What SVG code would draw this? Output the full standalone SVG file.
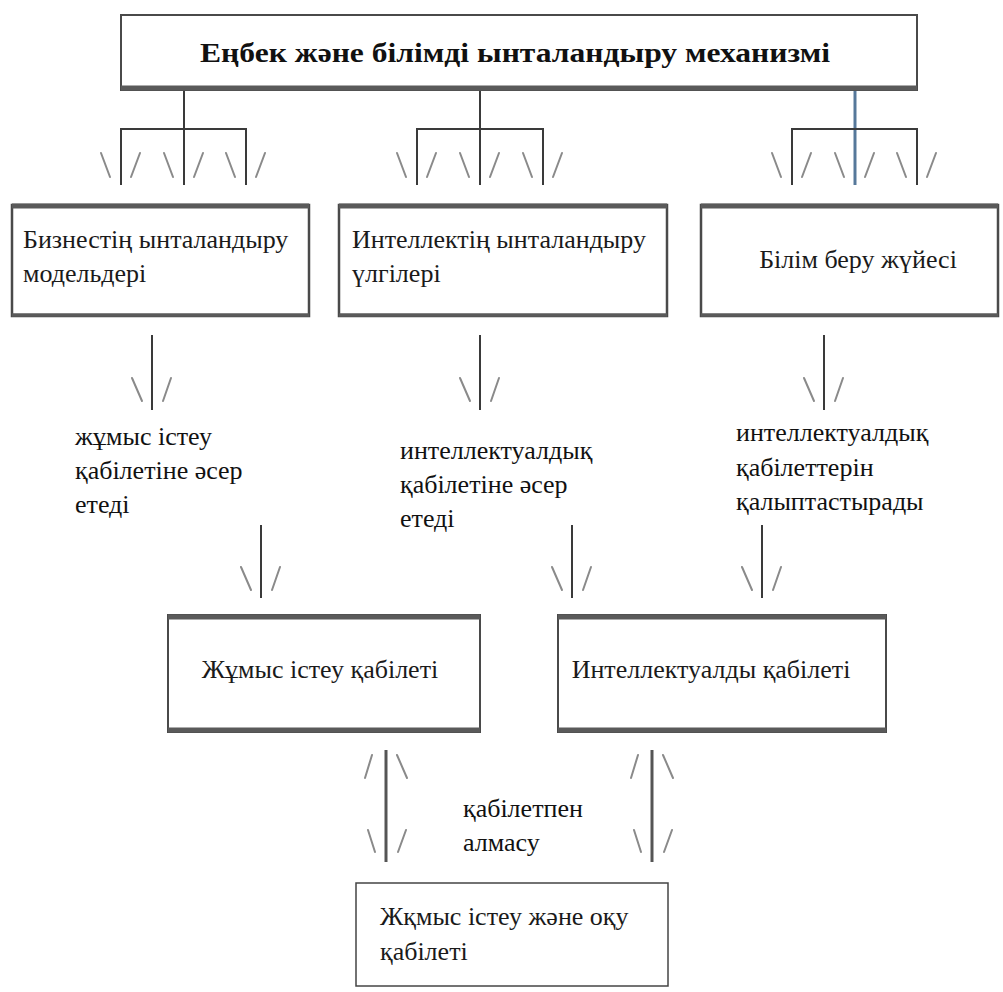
<svg xmlns="http://www.w3.org/2000/svg" width="1003" height="992" viewBox="0 0 1003 992">
<style>
.bg{fill:#ffffff}
.box{fill:#ffffff;stroke:#4a4a4a;stroke-width:2.5}
.thick{stroke:#5a5a5a;stroke-width:5;fill:none}
.thin{fill:#ffffff;stroke:#444;stroke-width:1.5}
.ln{stroke:#3a3a3a;stroke-width:2;fill:none}
.mk{stroke:#8a8a8a;stroke-width:2;fill:none;stroke-linecap:round}
.t{font-family:"Liberation Serif","Times New Roman",serif;font-size:26px;fill:#1a1a1a}
.lb{font-family:"Liberation Serif","Times New Roman",serif;font-size:26px;fill:#111}
.title{font-family:"Liberation Serif","Times New Roman",serif;font-size:28px;font-weight:bold;fill:#111}
</style>
<rect class="bg" x="0" y="0" width="1003" height="992"/>

<g id="connectors">
  <!-- stems from title -->
  <line class="ln" x1="184" y1="90" x2="184" y2="185"/>
  <line class="ln" x1="480" y1="90" x2="480" y2="185"/>
  <line class="ln" x1="855" y1="90" x2="855" y2="185" style="stroke:#56789a;stroke-width:3"/>
  <!-- brackets -->
  <path class="ln" d="M121,185 V129 H246 V185"/>
  <path class="ln" d="M417,185 V129 H543 V185"/>
  <path class="ln" d="M792,185 V129 H917 V185"/>
  <!-- marks under brackets -->
  <g id="marks-top">
    <path class="mk" d="M101,153 L110,177 M131,177 L140,153"/>
    <path class="mk" d="M164,153 L173,177 M194,177 L203,153"/>
    <path class="mk" d="M226,153 L235,177 M256,177 L265,153"/>
    <path class="mk" d="M397,153 L406,177 M427,177 L436,153"/>
    <path class="mk" d="M460,153 L469,177 M490,177 L499,153"/>
    <path class="mk" d="M523,153 L532,177 M553,177 L562,153"/>
    <path class="mk" d="M772,153 L781,177 M802,177 L811,153"/>
    <path class="mk" d="M835,153 L844,177 M865,177 L874,153"/>
    <path class="mk" d="M897,153 L906,177 M927,177 L936,153"/>
  </g>
  <!-- arrows from row 2 to labels -->
  <line class="ln" x1="152" y1="335" x2="152" y2="410"/>
  <path class="mk" d="M132,378 L142,401 M163,401 L171,378"/>
  <line class="ln" x1="480" y1="335" x2="480" y2="410"/>
  <path class="mk" d="M460,378 L470,401 M491,401 L499,378"/>
  <line class="ln" x1="824" y1="335" x2="824" y2="410"/>
  <path class="mk" d="M804,378 L814,401 M835,401 L843,378"/>
  <!-- arrows from labels to row 3 -->
  <line class="ln" x1="261" y1="525" x2="261" y2="598"/>
  <path class="mk" d="M241,567 L251,590 M272,590 L280,567"/>
  <line class="ln" x1="572" y1="525" x2="572" y2="598"/>
  <path class="mk" d="M552,567 L562,590 M583,590 L591,567"/>
  <line class="ln" x1="762" y1="525" x2="762" y2="598"/>
  <path class="mk" d="M742,567 L752,590 M773,590 L781,567"/>
  <!-- double arrows -->
  <line class="ln" x1="386" y1="750" x2="386" y2="862" style="stroke:#555;stroke-width:3"/>
  <path class="mk" d="M365,778 L372,755 M397,755 L407,778 M368,830 L375,852 M398,852 L406,830"/>
  <line class="ln" x1="652" y1="750" x2="652" y2="862" style="stroke:#555;stroke-width:3"/>
  <path class="mk" d="M631,778 L638,755 M663,755 L673,778 M634,830 L641,852 M664,852 L672,830"/>
</g>

<g id="n-title">
  <rect class="box" x="121" y="15" width="796" height="75" style="stroke-width:2"/>
  <line class="thick" x1="121" y1="88" x2="917" y2="88"/>
  <text class="title" x="515" y="62" text-anchor="middle" textLength="630" lengthAdjust="spacingAndGlyphs">Еңбек және білімді ынталандыру механизмі</text>
</g>

<g id="n-business">
  <rect class="box" x="12" y="205" width="297" height="111"/>
  <line class="thick" x1="12" y1="206" x2="309" y2="206"/>
  <line class="thick" x1="12" y1="315" x2="309" y2="315" style="stroke-width:3.5"/>
  <text class="t" x="23" y="248">Бизнестің ынталандыру</text>
  <text class="t" x="23" y="282">модельдері</text>
</g>

<g id="n-intellect">
  <rect class="box" x="339" y="205" width="328" height="111"/>
  <line class="thick" x1="339" y1="206" x2="667" y2="206"/>
  <line class="thick" x1="339" y1="315" x2="667" y2="315" style="stroke-width:3.5"/>
  <text class="t" x="352" y="248">Интеллектің ынталандыру</text>
  <text class="t" x="352" y="282">үлгілері</text>
</g>

<g id="n-education">
  <rect class="box" x="701" y="205" width="297" height="111"/>
  <line class="thick" x1="701" y1="206" x2="998" y2="206"/>
  <line class="thick" x1="701" y1="315" x2="998" y2="315" style="stroke-width:3.5"/>
  <text class="t" x="858" y="268" text-anchor="middle">Білім беру жүйесі</text>
</g>

<g id="l-work">
  <text class="lb" x="75" y="445">жұмыс істеу</text>
  <text class="lb" x="75" y="479">қабілетіне әсер</text>
  <text class="lb" x="75" y="513">етеді</text>
</g>

<g id="l-intel">
  <text class="lb" x="400" y="459">интеллектуалдық</text>
  <text class="lb" x="400" y="493">қабілетіне әсер</text>
  <text class="lb" x="400" y="527">етеді</text>
</g>

<g id="l-form">
  <text class="lb" x="736" y="441">интеллектуалдық</text>
  <text class="lb" x="736" y="476">қабілеттерін</text>
  <text class="lb" x="736" y="510">қалыптастырады</text>
</g>

<g id="n-workability">
  <rect class="box" x="168" y="615" width="312" height="117" style="stroke-width:2"/>
  <line class="thick" x1="168" y1="617" x2="480" y2="617"/>
  <line class="thick" x1="168" y1="730" x2="480" y2="730"/>
  <text class="t" x="320" y="678" text-anchor="middle">Жұмыс істеу қабілеті</text>
</g>

<g id="n-intelability">
  <rect class="box" x="558" y="615" width="328" height="117" style="stroke-width:2"/>
  <line class="thick" x1="558" y1="617" x2="886" y2="617"/>
  <line class="thick" x1="558" y1="730" x2="886" y2="730"/>
  <text class="t" x="711" y="678" text-anchor="middle">Интеллектуалды қабілеті</text>
</g>

<g id="l-exchange">
  <text class="lb" x="463" y="817">қабілетпен</text>
  <text class="lb" x="463" y="851">алмасу</text>
</g>

<g id="n-bottom">
  <rect class="thin" x="356" y="883" width="312" height="103"/>
  <text class="t" x="380" y="925">Жқмыс істеу және оқу</text>
  <text class="t" x="380" y="960">қабілеті</text>
</g>
</svg>
